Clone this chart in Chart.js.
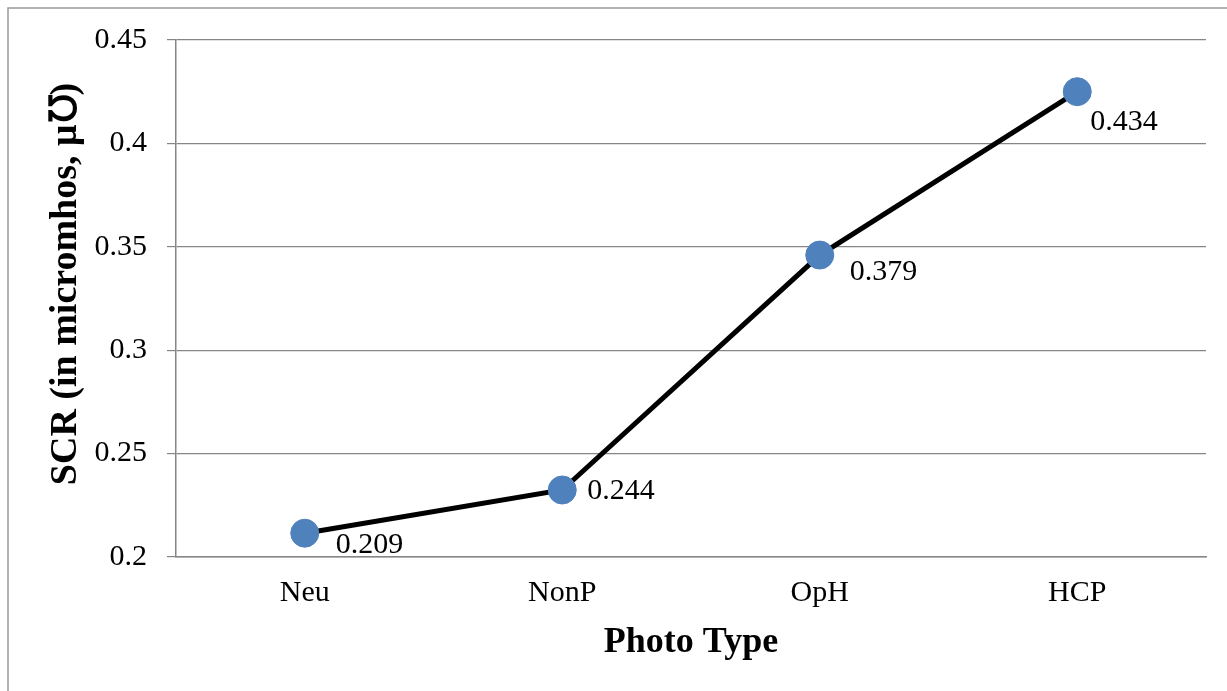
<!DOCTYPE html>
<html>
<head>
<meta charset="utf-8">
<script src="https://cdn.jsdelivr.net/npm/chart.js@4/dist/chart.umd.min.js"></script>
<style>
  html, body { margin: 0; padding: 0; background: #fff; }
  #wrap { width: 1227px; height: 691px; position: relative; }
</style>
</head>
<body>
<div id="wrap"><canvas id="c" width="1227" height="691"></canvas></div>
<script>
// ---- data ----
const categories = ["Neu", "NonP", "OpH", "HCP"];
const scrValues = [0.2115, 0.2324, 0.346, 0.425];        // plotted positions
const scrLabels = ["0.209", "0.244", "0.379", "0.434"];   // data label texts as printed
const yTickLabels = ["0.2", "0.25", "0.3", "0.35", "0.4", "0.45"]; // bottom to top
const yTitle = "SCR (in micromhos, \u03BC\u2127)";
const xTitle = "Photo Type";

// ---- layout / style ----
const labelOffsets = [[31, 12], [25, 1], [30, 17], [13, 30]];
const serif = "'Liberation Serif', 'Times New Roman', serif";
const gridColor = "#868686";

const frame = {
  id: "frame",
  beforeDraw(chart) {
    const ctx = chart.ctx;
    ctx.save();
    ctx.fillStyle = "#fff";
    ctx.fillRect(0, 0, chart.width, chart.height);
    ctx.strokeStyle = "#9a9a9a";
    ctx.lineWidth = 1.5;
    ctx.strokeRect(8, 8, chart.width + 20, chart.height + 20);
    ctx.restore();
  }
};

const titles = {
  id: "titles",
  afterDraw(chart) {
    const ctx = chart.ctx;
    const area = chart.chartArea;
    ctx.save();
    ctx.fillStyle = "#000";
    ctx.textAlign = "center";
    ctx.textBaseline = "middle";
    ctx.font = "bold 36px " + serif;
    ctx.fillText(xTitle, (area.left + area.right) / 2, 643);
    ctx.translate(66, 284);
    ctx.rotate(-Math.PI / 2);
    ctx.font = "bold 38px " + serif;
    ctx.fillText(yTitle, 0, 0);
    ctx.restore();
  }
};

const dataLabels = {
  id: "dataLabels",
  afterDatasetsDraw(chart) {
    const ctx = chart.ctx;
    const meta = chart.getDatasetMeta(0);
    ctx.save();
    ctx.font = "30px " + serif;
    ctx.fillStyle = "#000";
    ctx.textAlign = "left";
    ctx.textBaseline = "middle";
    meta.data.forEach((pt, i) => {
      const off = labelOffsets[i];
      ctx.fillText(scrLabels[i], pt.x + off[0], pt.y + off[1]);
    });
    ctx.restore();
  }
};

new Chart(document.getElementById("c"), {
  type: "line",
  data: {
    labels: categories,
    datasets: [{
      data: scrValues,
      borderColor: "#000",
      borderWidth: 5,
      pointRadius: 14,
      pointHoverRadius: 14,
      pointBackgroundColor: "#4F81BD",
      pointBorderColor: "#4F81BD",
      pointBorderWidth: 1,
      tension: 0,
      clip: false
    }]
  },
  options: {
    responsive: false,
    animation: false,
    events: [],
    layout: { padding: { left: 10, top: 40, right: 21, bottom: 10 } },
    plugins: { legend: { display: false }, tooltip: { enabled: false } },
    scales: {
      x: {
        offset: true,
        grid: { display: false, drawTicks: false },
        border: { display: true, color: gridColor, width: 1.5 },
        ticks: { color: "#000", font: { family: serif, size: 30 }, padding: 18, maxRotation: 0 },
        title: { display: false },
        afterFit(s) { s.height = 691 - 557 - 10; }
      },
      y: {
        min: 0.2,
        max: 0.45,
        ticks: {
          stepSize: 0.05,
          color: "#000",
          font: { family: serif, size: 30 },
          padding: 20,
          callback: (v, i) => yTickLabels[i]
        },
        grid: { color: gridColor, lineWidth: 1.2, tickLength: 9, drawTicks: true },
        border: { display: true, color: gridColor, width: 1.5 },
        title: { display: false },
        afterFit(s) { s.width = 176 - 10; }
      }
    }
  },
  plugins: [frame, dataLabels, titles]
});
</script>
</body>
</html>
